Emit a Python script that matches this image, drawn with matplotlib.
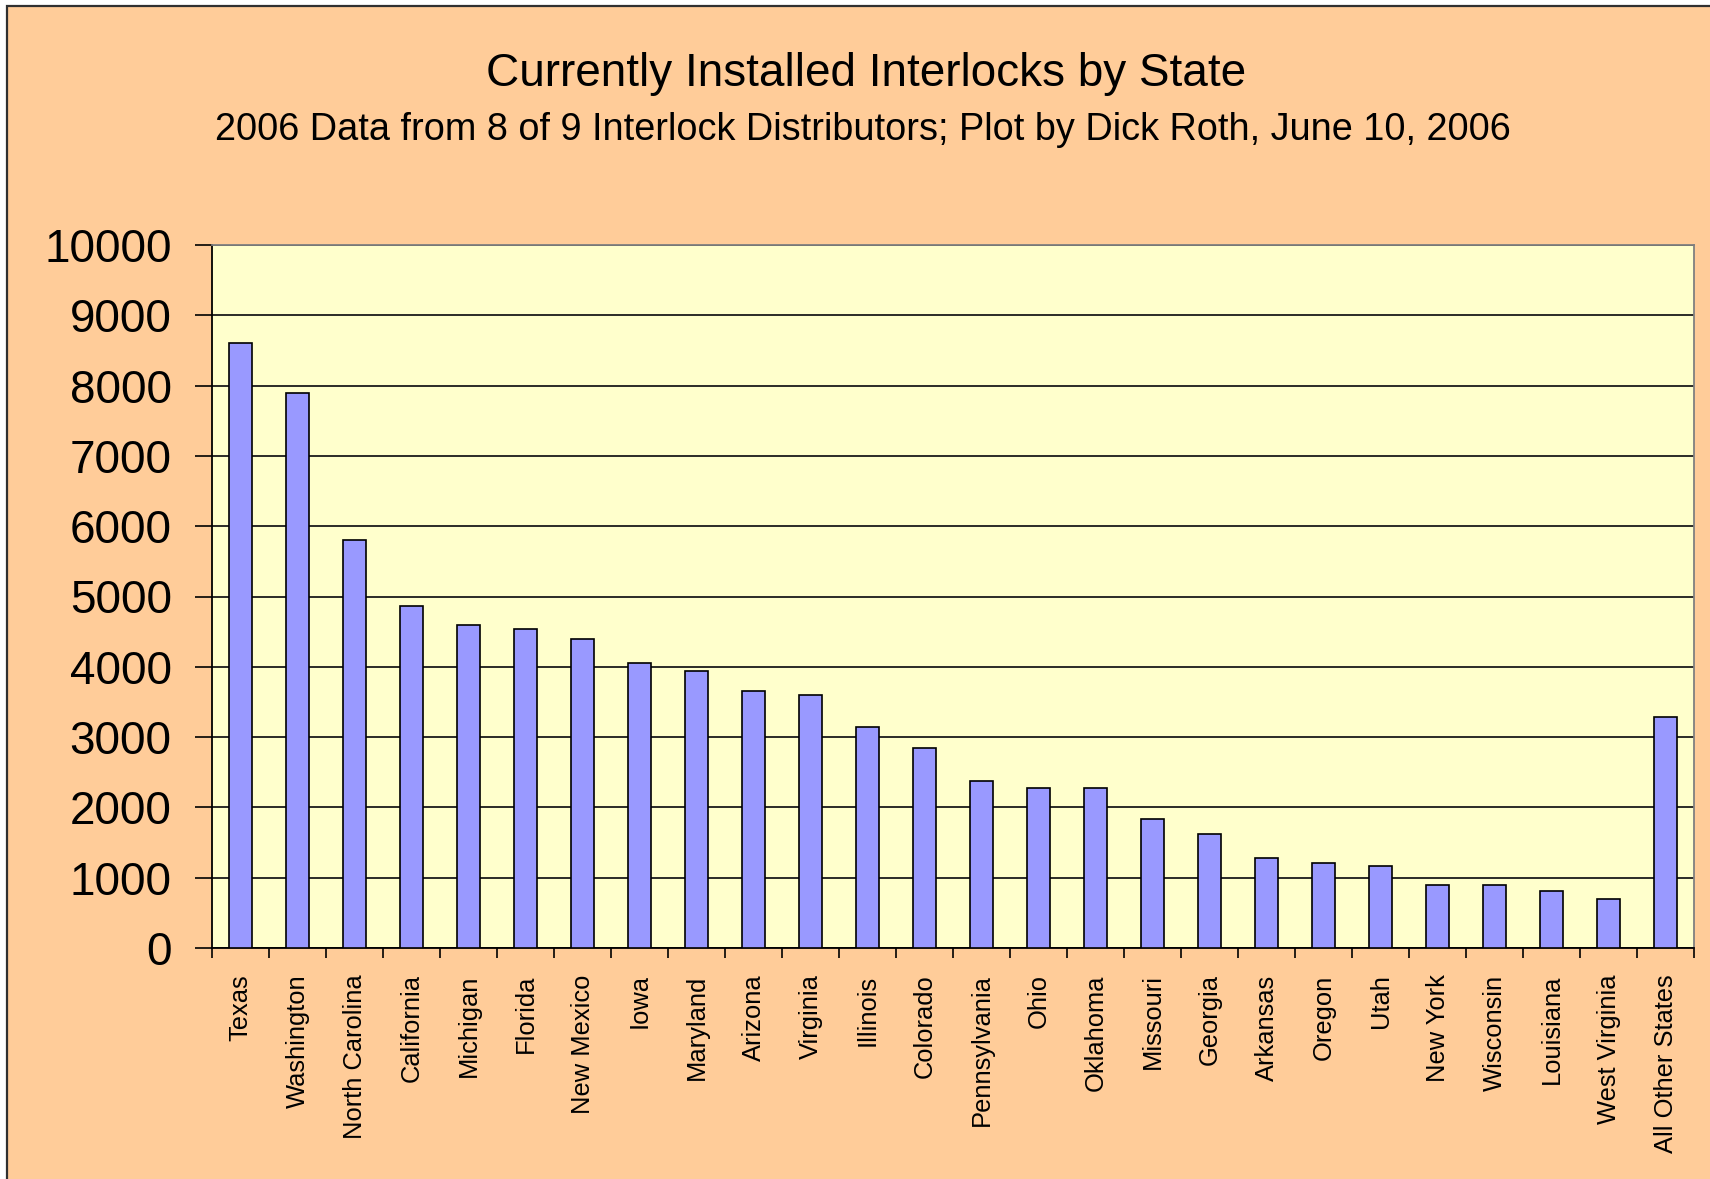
import matplotlib
matplotlib.use("Agg")
import matplotlib.pyplot as plt
from matplotlib.patches import Rectangle
import numpy as np

states = ["Texas", "Washington", "North Carolina", "California", "Michigan", "Florida",
          "New Mexico", "Iowa", "Maryland", "Arizona", "Virginia", "Illinois", "Colorado",
          "Pennsylvania", "Ohio", "Oklahoma", "Missouri", "Georgia", "Arkansas", "Oregon",
          "Utah", "New York", "Wisconsin", "Louisiana", "West Virginia", "All Other States"]
interlocks = [8600, 7900, 5810, 4860, 4600, 4540, 4400, 4060, 3940, 3660, 3600, 3140, 2850,
              2370, 2270, 2270, 1840, 1620, 1280, 1210, 1160, 900, 900, 810, 700, 3280]
yticks = [0, 1000, 2000, 3000, 4000, 5000, 6000, 7000, 8000, 9000, 10000]

title = "Currently Installed Interlocks by State"
subtitle = "2006 Data from 8 of 9 Interlock Distributors; Plot by Dick Roth, June 10, 2006"

plt.rcParams['font.family'] = ['Liberation Sans', 'DejaVu Sans']

W, H = 1710, 1179
fig = plt.figure(figsize=(W / 100, H / 100), dpi=100)
fig.patch.set_facecolor('white')
fig.patches.append(Rectangle((7 / W, -0.1), 1.2, 1 - 6 / H + 0.1, transform=fig.transFigure,
                             facecolor='#FFCC99', edgecolor='#303030', linewidth=1.6, zorder=-10))

ax = fig.add_axes([212 / W, 1 - 948 / H, (1694 - 212) / W, (948 - 245) / H])
ax.set_facecolor('#FFFFCC')

x = np.arange(len(states))
ax.bar(x, interlocks, width=0.4, color='#9999FF', edgecolor='black', linewidth=1.2, zorder=3)

ax.set_xlim(-0.5, len(states) - 0.5)
ax.set_ylim(0, 10000)
ax.set_yticks(yticks)
ax.set_yticklabels([str(v) for v in yticks], fontsize=33)
ax.yaxis.grid(True, color='#1a1a1a', linewidth=1.3, zorder=1)
ax.set_axisbelow(True)

ax.set_xticks(x)
ax.set_xticklabels(states, rotation=90, fontsize=18.4, va='top', ha='center')
ax.set_xticks(np.arange(len(states) + 1) - 0.5, minor=True)
ax.tick_params(axis='x', which='major', length=0, pad=19)
ax.tick_params(axis='x', which='minor', length=7, width=1.2, direction='out', color='black')
ax.tick_params(axis='y', length=12, width=1.2, direction='out', pad=17, color='black')

for s in ['left', 'bottom']:
    ax.spines[s].set_color('black')
    ax.spines[s].set_linewidth(1.3)
for s in ['top', 'right']:
    ax.spines[s].set_color('#808080')
    ax.spines[s].set_linewidth(1.3)

fig.text(866 / W, 1 - 74 / H, title, ha='center', va='center', fontsize=33)
fig.text(863 / W, 1 - 130 / H, subtitle, ha='center', va='center', fontsize=27.3)

fig.savefig('out.png', dpi=100, facecolor=fig.get_facecolor())
